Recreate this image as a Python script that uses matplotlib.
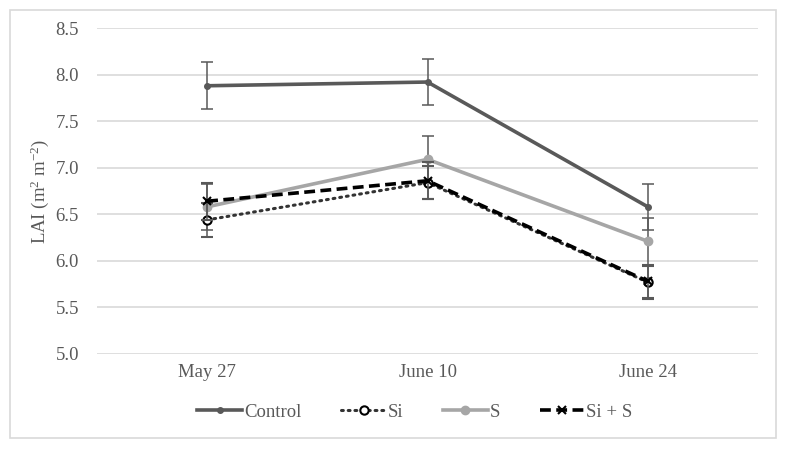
import matplotlib
matplotlib.use('Agg')
import matplotlib.pyplot as plt
from matplotlib.patches import Rectangle
from matplotlib.lines import Line2D
import numpy as np

# Data
dates = ['May 27', 'June 10', 'June 24']
control = [7.88, 7.92, 6.58]
control_err = [0.25, 0.25, 0.25]
si = [6.44, 6.84, 5.77]
si_err = [0.18, 0.18, 0.18]
s = [6.58, 7.09, 6.21]
s_err = [0.25, 0.25, 0.25]
si_s = [6.64, 6.86, 5.78]
si_s_err = [0.2, 0.2, 0.18]

plt.rcParams['font.family'] = 'Liberation Serif'
plt.rcParams['mathtext.fontset'] = 'custom'
plt.rcParams['mathtext.rm'] = 'Liberation Serif'
plt.rcParams['mathtext.it'] = 'Liberation Serif:italic'

fig = plt.figure(figsize=(7.86, 4.49), dpi=100)
ax = fig.add_axes([0.1234, 0.2116, 0.841, 0.726])

x = np.arange(len(dates))
err_color = '#595959'
eb = dict(ecolor=err_color, elinewidth=1.1, capsize=4, capthick=1.1)

styles = {
    'Control': dict(color='#595959', lw=2.6, marker='o', ms=4),
    'Si': dict(color='#333333', lw=2.2, ls=(0, (0.6, 1.6)), dash_capstyle='round',
               marker='o', ms=6, mfc='white', mec='black', mew=1.5),
    'S': dict(color='#A6A6A6', lw=2.6, marker='o', ms=6),
    'Si + S': dict(color='black', lw=2.6, ls=(0, (3, 1.5)), marker='x', ms=6, mec='black', mew=1.5),
}

ax.errorbar(x, control, yerr=control_err, zorder=3, **styles['Control'], **eb)
ax.errorbar(x, si, yerr=si_err, zorder=4, **styles['Si'], **eb)
ax.errorbar(x, s, yerr=s_err, zorder=3, **styles['S'], **eb)
ax.errorbar(x, si_s, yerr=si_s_err, zorder=5, **styles['Si + S'], **eb)

ax.set_xlim(-0.5, 2.5)
ax.set_ylim(5.0, 8.5)
yt = np.arange(5.0, 8.51, 0.5)
ax.set_yticks(yt)
ax.set_yticklabels([f'{v:.1f}' for v in yt])
ax.set_xticks(x)
ax.set_xticklabels(dates)
ax.tick_params(length=0, labelsize=13.5, colors='#595959')
ax.tick_params(axis='x', pad=7)
ax.tick_params(axis='y', pad=13)
ax.yaxis.grid(True, color='#D9D9D9', lw=1.2)
ax.set_axisbelow(True)
for sp in ax.spines.values():
    sp.set_visible(False)
ax.set_ylabel(r'LAI (m$^2$ m$^{-2}$)', fontsize=13.5, color='#595959', labelpad=3)

handles = [Line2D([], [], **styles[k]) for k in styles]
leg = fig.legend(handles, list(styles.keys()), loc='center', bbox_to_anchor=(0.528, 0.082), ncol=4,
                 frameon=False, fontsize=13.5, handlelength=2.4, columnspacing=2.1, handletextpad=0.1,
                 numpoints=1)
for t in leg.get_texts():
    t.set_color('#595959')

fig.patches.append(Rectangle((10 / 786, 11 / 449), 766 / 786, 428 / 449, transform=fig.transFigure,
                             fill=False, edgecolor='#D9D9D9', lw=1.2))

fig.savefig('out.png', dpi=100)
